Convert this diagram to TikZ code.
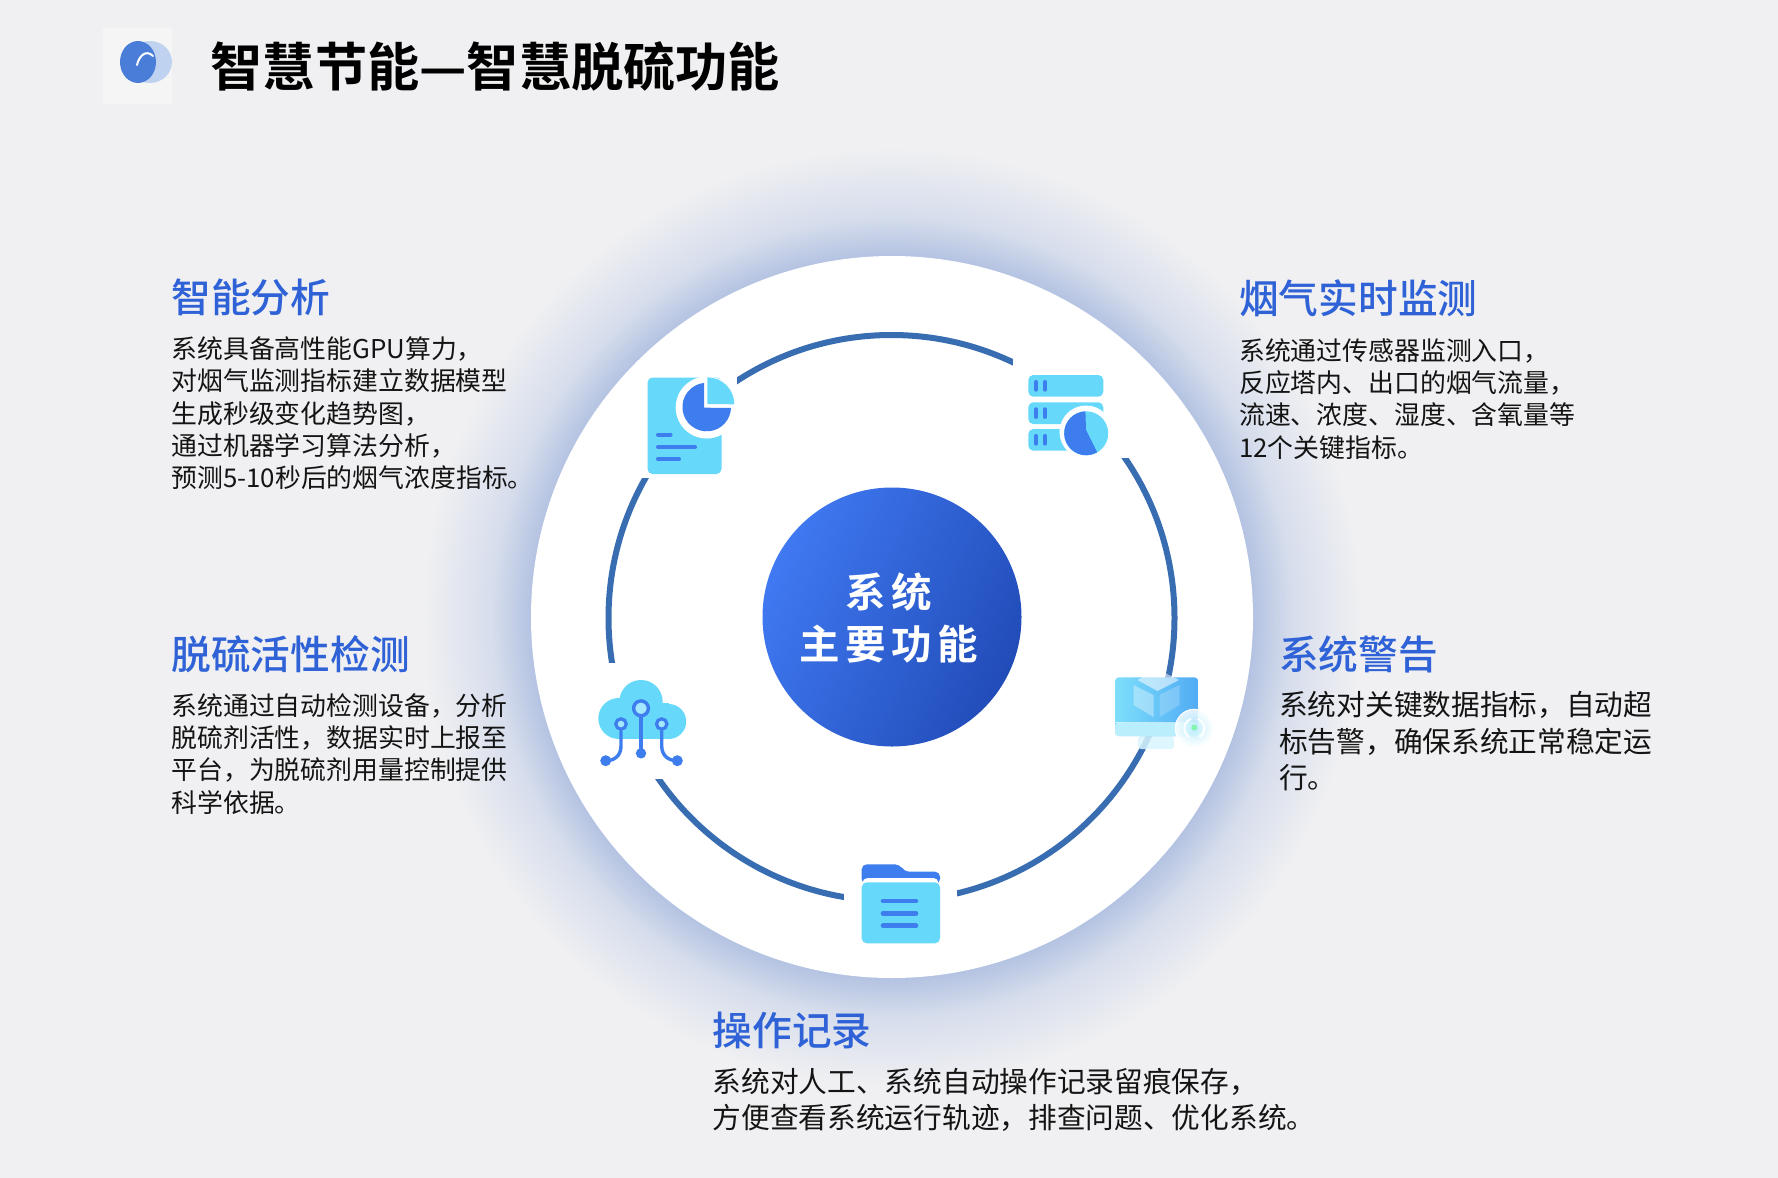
\documentclass[tikz,border=0pt]{standalone}
\usepackage{fontspec}
\usepackage{tikz}
\usetikzlibrary{shapes, calc, positioning}
\newfontfamily\cjk{Noto Sans CJK SC}
\newfontfamily\cjkmed{Noto Sans CJK SC Medium}
\newfontfamily\cjkwide[LetterSpace=14]{Noto Sans CJK SC Bold}
\newfontfamily\cjkbold{Noto Sans CJK SC Bold}

\definecolor{pagebg}{HTML}{F0F0F2}
\definecolor{glowblue}{HTML}{B4C3E2}
\definecolor{glowmid}{HTML}{D6DDEC}
\definecolor{ringblue}{HTML}{386DB2}
\definecolor{headblue}{HTML}{2F62D6}
\definecolor{iconcyan}{HTML}{66D9FA}
\definecolor{iconblue}{HTML}{3D7DEE}
\definecolor{coreleft}{HTML}{4079F2}
\definecolor{coreright}{HTML}{214CB8}
\definecolor{logodark}{HTML}{4A7DD8}
\definecolor{logolight}{HTML}{BFD2F0}

\pgfdeclareradialshading{ringglow}{\pgfpoint{0bp}{0bp}}{%
	color(0bp)=(glowblue); color(19.2bp)=(glowblue); color(21.3bp)=(glowmid); color(25bp)=(pagebg); color(50bp)=(pagebg)}

\begin{document}
\begin{tikzpicture}[x=1pt, y=1pt]
	\tikzstyle{headtext} = [anchor=base west, inner sep=0pt, text=headblue, font=\cjkmed\fontsize{39.7}{44}\selectfont]
	\tikzstyle{bodytext} = [anchor=base west, inner sep=0pt, align=left, text=black!92, font=\cjk\fontsize{25.85}{32.3}\selectfont]
	\tikzstyle{bigtext} = [anchor=base west, inner sep=0pt, align=left, text=black!92, font=\cjk\fontsize{28.7}{36.3}\selectfont]
	\tikzstyle{gapmask} = [fill=white, inner sep=0pt]
	\tikzstyle{slab} = [fill=iconcyan, rounded corners=5pt]
	\tikzstyle{bar} = [draw=iconblue, line cap=round]

	\useasboundingbox (0,-1178) rectangle (1778,0);
	\fill[pagebg] (0,-1178) rectangle (1778,0);

	% logo
	\fill[white!30!pagebg] (103,-28) rectangle (172,-104);
	\fill[logolight] (150,-62) ellipse [x radius=22, y radius=21];
	\fill[logodark] (138,-62) ellipse [x radius=18, y radius=21];
	\draw[white, line width=2pt, line cap=round] (137,-65) .. controls (139,-56) and (146,-49) .. (153,-56);

	\node[anchor=base west, inner sep=0pt, font=\cjkbold\fontsize{52.2}{56}\selectfont] (title) at (210.5,-86.5) {智慧节能—智慧脱硫功能};

	% disc, ring and core
	\shade[shading=ringglow] (892,-617) circle [radius=470];
	\fill[white] (892,-617) circle [radius=361];
	\draw[ringblue, line width=6pt] (891.5,-618) circle [radius=283];

	\node[gapmask, minimum width=100pt, minimum height=106pt, anchor=north east] (docgap) at (737,-372) {};
	\node[gapmask, minimum width=117pt, minimum height=108pt, anchor=south west] (srvgap) at (1013,-458) {};
	\node[gapmask, minimum width=110pt, minimum height=116pt, anchor=north west] (cldgap) at (590,-663) {};
	\node[gapmask, minimum width=113pt, minimum height=110pt, anchor=north west] (fldgap) at (844,-850) {};

	\shade[left color=coreleft, right color=coreright, shading angle=65] (892,-617) circle [radius=129.5];
	\node[align=center, text=white, inner sep=0pt, font=\cjkwide\fontsize{40.5}{52}\selectfont] (core) at (888.5,-618) {系统\\主要功能};

	% doc icon
	\begin{scope}
		\fill[slab] (647.5,-377.5) rectangle (721.5,-474);
		\fill[white] (706.7,-407.5) circle [radius=31];
		\fill[iconblue] (704,-407.7) -- (704,-382.9) arc [start angle=96.4, end angle=358, radius=24.3] -- cycle;
		\fill[iconcyan] (707.3,-404) -- (707.3,-377.3) arc [start angle=90, end angle=0, radius=27] -- cycle;
		\draw[bar, line width=4pt] (658,-434.7) -- (670.5,-434.7);
		\draw[bar, line width=4pt] (658,-447) -- (695,-447);
		\draw[bar, line width=4pt] (658,-459) -- (679,-459);
	\end{scope}

	% server icon
	\begin{scope}
		\fill[slab] (1028.3,-375) rectangle (1103.3,-396.7);
		\fill[slab] (1028.3,-402.3) rectangle (1103.3,-424);
		\fill[slab] (1028.3,-429) rectangle (1103.3,-450.7);
		\foreach \rowy in {385.8, 413.1, 439.8} {
			\draw[bar, line width=3.6pt] (1036,-\rowy+4) -- (1036,-\rowy-4);
			\draw[bar, line width=3.6pt] (1045,-\rowy+4) -- (1045,-\rowy-4);
		}
		\fill[white] (1086,-432) circle [radius=26.5];
		\fill[iconcyan] (1086.2,-433.3) circle [radius=22];
		\fill[iconblue] (1086,-430) -- (1085.4,-411.3) arc [start angle=92, end angle=300, radius=22] -- cycle;
	\end{scope}

	% cloud icon
	\begin{scope}
		\fill[iconcyan] (641,-701.7) circle [radius=21.7];
		\fill[iconcyan] (618.8,-718.5) circle [radius=20.5];
		\fill[iconcyan] (668.7,-721.5) circle [radius=17.5];
		\fill[iconcyan] (618,-703) rectangle (669,-739);
		\draw[bar, line width=3.4pt] (641,-717) -- (641,-753);
		\draw[bar, line width=3.4pt] (621,-731) -- (621,-746) .. controls (621,-756) and (614,-760.7) .. (606,-760.7);
		\draw[bar, line width=3.4pt] (661.7,-731) -- (661.7,-746) .. controls (661.7,-756) and (669,-760.7) .. (677,-760.7);
		\fill[iconblue] (641,-753.3) circle [radius=5.2];
		\fill[iconblue] (605.7,-760.7) circle [radius=5.5];
		\fill[iconblue] (677.3,-760.7) circle [radius=5.5];
		\draw[iconblue, line width=3.4pt, fill=iconcyan!60!white] (641,-708.3) circle [radius=7.4];
		\draw[iconblue, line width=3.2pt, fill=iconcyan!60!white] (621,-724) circle [radius=5.2];
		\draw[iconblue, line width=3.2pt, fill=iconcyan!60!white] (661.7,-724) circle [radius=5.2];
	\end{scope}

	% monitor icon
	\begin{scope}
		\fill[iconcyan!25!white, opacity=.85, rounded corners=3pt] (1138,-736) rectangle (1174,-749);
		\shade[left color=iconcyan!85!white, right color=iconblue!50!iconcyan, rounded corners=4pt] (1115,-677.3) rectangle (1198.3,-736);
		\fill[white!55!iconcyan, rounded corners=3pt] (1115,-723) rectangle (1198.3,-736);
		\fill[white, opacity=.6] (1115,-721.5) rectangle (1198.3,-723);
		\fill[white, opacity=.55] (1157.5,-669) -- (1179,-680) -- (1157.5,-691) -- (1137.5,-680) -- cycle;
		\fill[white, opacity=.35] (1133.5,-685) -- (1153.5,-695) -- (1153.5,-717) -- (1133.5,-705) -- cycle;
		\fill[white, opacity=.2] (1159.5,-695) -- (1179.5,-685) -- (1179.5,-705) -- (1159.5,-717) -- cycle;
		\shade[inner color=iconcyan!45!white, outer color=white, opacity=.85] (1194.3,-728.3) circle [radius=19.5];
		\draw[white, line width=.8pt] (1194.3,-728.3) circle [radius=19];
		\draw[white, line width=2pt] (1194.3,-728.3) ++(70:10) arc [start angle=70, end angle=-60, radius=10];
		\draw[white, line width=2pt] (1194.3,-728.3) ++(110:10) arc [start angle=110, end angle=240, radius=10];
		\fill[iconcyan!50!green!60!white] (1194.3,-727.5) circle [radius=3];
	\end{scope}

	% folder icon
	\begin{scope}
		\fill[iconblue, rounded corners=5pt] (861.7,-884) -- (861.7,-864.3) -- (900,-864.3) -- (904,-871.7) -- (940,-871.7) -- (940,-884) -- cycle;
		\fill[white, rounded corners=5pt] (862.5,-878) rectangle (938.5,-892);
		\fill[slab] (861.7,-882.3) rectangle (940,-943.3);
		\draw[bar, line width=4.6pt] (883,-901) -- (916,-901);
		\draw[bar, line width=4.6pt] (883,-913.3) -- (916,-913.3);
		\draw[bar, line width=4.6pt] (883,-925.7) -- (916,-925.7);
	\end{scope}

	% captions
	\node[headtext] (fn1) at (171.3,-312) {智能分析};
	\node[bodytext] (tx1) at (171.3,-487.7) {系统具备高性能GPU算力，\\对烟气监测指标建立数据模型\\生成秒级变化趋势图，\\通过机器学习算法分析，\\预测5-10秒后的烟气浓度指标。};

	\node[headtext] (fn2) at (1239,-313) {烟气实时监测};
	\node[bodytext] (tx2) at (1239,-457) {系统通过传感器监测入口，\\反应塔内、出口的烟气流量，\\流速、浓度、湿度、含氧量等\\12个关键指标。};

	\node[headtext] (fn3) at (171.3,-669) {脱硫活性检测};
	\node[bodytext] (tx3) at (171.3,-812) {系统通过自动检测设备，分析\\脱硫剂活性，数据实时上报至\\平台，为脱硫剂用量控制提供\\科学依据。};

	\node[headtext] (fn4) at (1279,-669) {系统警告};
	\node[bigtext] (tx4) at (1279,-788.5) {系统对关键数据指标，自动超\\标告警，确保系统正常稳定运\\行。};

	\node[headtext] (fn5) at (712.5,-1045) {操作记录};
	\node[bigtext] (tx5) at (712.5,-1128.7) {系统对人工、系统自动操作记录留痕保存，\\方便查看系统运行轨迹，排查问题、优化系统。};
\end{tikzpicture}
\end{document}
